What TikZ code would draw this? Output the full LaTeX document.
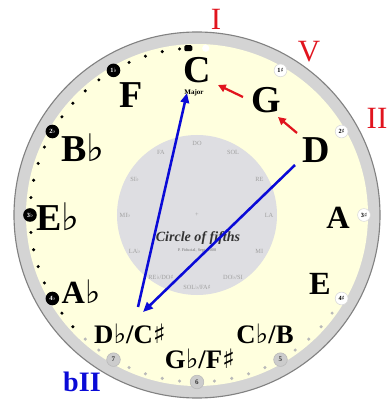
\documentclass[tikz,border=0pt]{standalone}
\usepackage{fontspec}
\setmainfont{Liberation Serif}
\newfontfamily\musfont{DejaVu Sans}
\usetikzlibrary{arrows.meta, calc}
\definecolor{cream}{RGB}{255,255,222}
\definecolor{ringgray}{RGB}{212,212,212}
\definecolor{rimgray}{RGB}{130,130,130}
\definecolor{discgray}{RGB}{222,222,226}
\definecolor{solgray}{RGB}{160,160,160}
\definecolor{romanred}{RGB}{225,20,30}
\definecolor{arrowblue}{RGB}{10,10,215}
\newcommand{\fl}{{\musfont\mdseries ♭}}
\newcommand{\sh}{{\musfont\mdseries ♯}}

\begin{document}
\begin{tikzpicture}[x=0.025cm, y=0.025cm,
  bignote/.style={inner sep=0, font=\fontsize{27}{27}\selectfont\bfseries},
  midnote/.style={inner sep=0, font=\fontsize{23}{23}\selectfont\bfseries},
  twonote/.style={inner sep=0, font=\fontsize{19}{19}\selectfont\bfseries},
  flatmark/.style={circle, fill=black, text=white, inner sep=0, minimum size=0.34cm, font=\fontsize{4.5}{4.5}\selectfont\bfseries},
  sharpmark/.style={circle, fill=white, draw=gray!30, text=black, inner sep=0, minimum size=0.32cm, font=\fontsize{4.5}{4.5}\selectfont\bfseries},
  degmark/.style={circle, fill=gray!40, draw=gray!55, text=black!80, inner sep=0, minimum size=0.34cm, font=\fontsize{5}{5}\selectfont\bfseries},
  solfa/.style={inner sep=0, text=solgray, font=\fontsize{4.5}{4.5}\selectfont},
  roman/.style={inner sep=0, font=\fontsize{22}{22}\selectfont},
  redarrow/.style={romanred, line width=1.6pt, -{Triangle[length=5.5pt, width=5.5pt]}},
  bluearrow/.style={arrowblue, line width=1.8pt, -{Triangle[length=7pt, width=6pt]}}]
  \useasboundingbox (-197,-184) rectangle (190,215);
  % dial
  \filldraw[fill=ringgray, draw=rimgray, line width=0.8pt] (0,0) circle (183);
  \fill[cream] (0,0) circle (171);
  \fill[discgray] (0,0) circle (80);
  % dots on the rim
  \foreach \a in {96,102,108,114,126,132,138,144,156,162,168,174,186,192,198,204,216,222}
    \fill[black] (\a:167) circle (1.7);
  \foreach \a in {228,234,246,252,258,264,276,282,288,294,306,312,318,324}
    \fill[gray!55] (\a:167) circle (1.7);
  % key markers
  \node[fill=black, rounded corners=1pt, inner sep=0, minimum width=0.2cm, minimum height=0.15cm] (key) at (93:167) {};
  \node[sharpmark, minimum size=0.18cm, draw=none] (s0) at (87:167) {};
  \foreach \a/\t in {120/1, 150/2, 180/3, 210/4}
    \node[flatmark] (f\t) at (\a:167) {\t\fl};
  \foreach \a/\t in {60/1, 30/2, 0/3, -30/4}
    \node[sharpmark] (s\t) at (\a:167) {\t\sh};
  \foreach \a/\t in {-60/5, -90/6, -120/7}
    \node[degmark] (d\t) at (\a:167) {\t};
  % solfege
  \node[solfa] (plus) at (0,0) {+};
  \foreach \a/\t [count=\i] in {90/DO, 60/SOL, 30/RE, 0/LA, -30/MI, -60/{DO\fl/SI}, -90/{SOL\fl/FA\sh}, -120/{RE\fl/DO\sh}, -150/LA\fl, 180/MI\fl, 150/SI\fl, 120/FA}
    \node[solfa] (sol\i) at (\a:72) {\t};
  \node[inner sep=0, text=black!80, font=\fontsize{10}{10}\selectfont\bfseries\itshape] (title) at (1,-23) {Circle of fifths};
  \node[inner sep=0, text=black!55, font=\fontsize{3}{3}\selectfont] (credit) at (0,-35) {P. Fiducial, Sept. 2008};
  % notes
  \node[bignote] (nC) at (0,145) {C};
  \node[inner sep=0, font=\fontsize{5}{5}\selectfont\bfseries] (nMajor) at (-3,122) {Major};
  \node[bignote] (nG) at (69,115) {G};
  \node[bignote] (nD) at (119,65) {D};
  \node[midnote] (nA) at (141,-3) {A};
  \node[midnote] (nE) at (123,-69) {E};
  \node[twonote] (nCb) at (68,-119) {C\fl/B};
  \node[twonote] (nGb) at (3,-144) {G\fl/F\sh};
  \node[twonote] (nDb) at (-67,-119) {D\fl/C\sh};
  \node[midnote] (nAb) at (-116,-77) {A\fl};
  \node[bignote] (nEb) at (-139,-2) {E\fl};
  \node[bignote] (nBb) at (-114,67) {B\fl};
  \node[bignote] (nF) at (-66,120) {F};
  % degrees
  \node[roman, text=romanred] (rI) at (19,196) {I};
  \node[roman, text=romanred] (rV) at (112,163) {V};
  \node[roman, text=romanred] (rII) at (180,97) {II};
  \node[roman, text=arrowblue, font=\fontsize{20}{20}\selectfont\bfseries] (rbII) at (-115,-167) {bII};
  % progression
  \draw[redarrow] ($(nG)+(-23,3)$) -- ($(nC)+(21,-15)$);
  \draw[redarrow] ($(nD)+(-19,17)$) -- ($(nG)+(12,-17)$);
  \draw[bluearrow] ($(nDb)+(8,27)$) -- ($(nMajor)+(-7,0)$);
  \draw[bluearrow] ($(nD)+(-21,-15)$) -- ($(nDb)+(13,22)$);
\end{tikzpicture}
\end{document}
